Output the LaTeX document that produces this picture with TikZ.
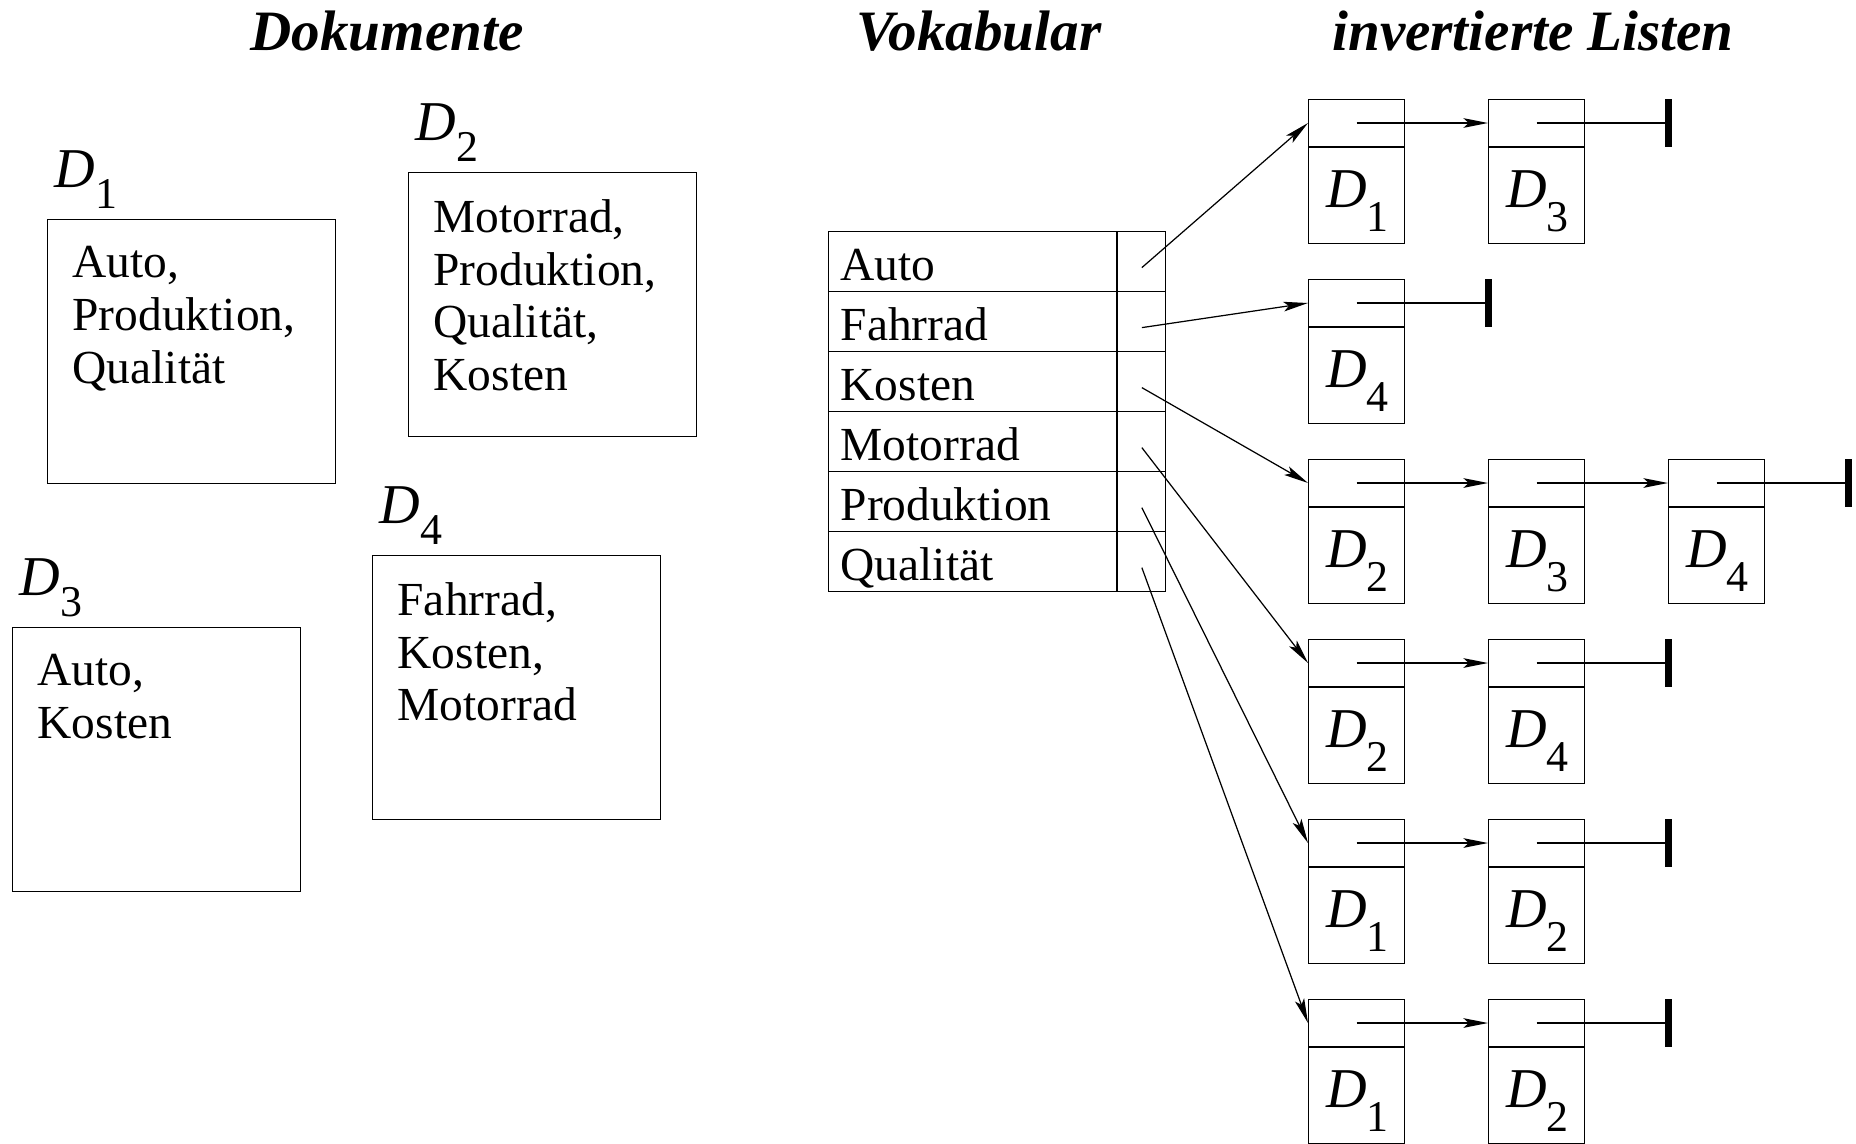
\documentclass[tikz,border=0pt]{standalone}
\usepackage{fontspec}
\setmainfont{Liberation Serif}
\usetikzlibrary{calc,arrows.meta}

\newcommand{\Dsub}[1]{\textit{D}\raisebox{-12pt}{\fontsize{25}{25}\selectfont #1}}
\newcommand{\Dcell}[1]{\textit{D}\raisebox{-14pt}{\fontsize{25}{25}\selectfont #1}}

\tikzset{
  every node/.style={inner sep=0pt},
  title/.style={font=\fontsize{32.5}{36}\selectfont\bfseries\itshape, anchor=base},
  docbox/.style={draw, minimum width=288*0.02cm, minimum height=264*0.02cm, anchor=north west},
  doctext/.style={font=\fontsize{27}{30}\selectfont, align=left, anchor=north west},
  dlabel/.style={font=\fontsize{32}{36}\selectfont, anchor=base west},
  wordcell/.style={draw, minimum width=288*0.02cm, minimum height=60*0.02cm, anchor=north west},
  ptrcell/.style={draw, minimum width=48*0.02cm, minimum height=60*0.02cm, anchor=north west},
  word/.style={font=\fontsize{27}{30}\selectfont, anchor=base west},
  listcell/.style={draw, minimum width=96*0.02cm, minimum height=144*0.02cm, anchor=north west},
  ptr/.style={-{Stealth[length=14pt, width=5.5pt, inset=3pt]}},
  endbar/.style={line width=4pt}
}

\begin{document}
\begin{tikzpicture}[x=0.02cm, y=-0.02cm, line width=0.7pt]
  \useasboundingbox (0,0) rectangle (1856,1143);

  % Ueberschriften
  \node[title] (tdok) at (387,50) {Dokumente};
  \node[title] (tvok) at (979,50) {Vokabular};
  \node[title] (tlis) at (1533,50) {invertierte Listen};

  % Dokumente
  \foreach \i/\x/\y/\txt in {1/47/219/{Auto,\\Produktion,\\Qualität},
                             2/408/172/{Motorrad,\\Produktion,\\Qualität,\\Kosten},
                             3/12/627/{Auto,\\Kosten},
                             4/372/555/{Fahrrad,\\Kosten,\\Motorrad}}{
    \node[docbox] (d\i) at (\x,\y) {};
    \node[doctext] (dt\i) at ($(d\i.north west)+(25,27)$) {\txt};
    \node[dlabel] (dl\i) at ($(d\i.north west)+(7,-32)$) {\Dsub{\i}};
  }

  % Vokabular
  \foreach \w [count=\r] in {Auto, Fahrrad, Kosten, Motorrad, Produktion, Qualität}{
    \node[wordcell] (w\r) at (828,{231+60*(\r-1)}) {};
    \node[ptrcell] (v\r) at (w\r.north east) {};
    \node[word] (t\r) at ($(w\r.north west)+(12,49)$) {\w};
  }

  % invertierte Listen
  \foreach \r/\n/\docs in {1/2/{1,3}, 2/1/{4}, 3/3/{2,3,4}, 4/2/{2,4}, 5/2/{1,2}, 6/2/{1,2}}{
    \foreach \d [count=\k] in \docs {
      \node[listcell] (c\r\k) at ({1308+180*(\k-1)},{99+180*(\r-1)}) {};
      \draw ($(c\r\k.north west)+(0,48)$) -- ($(c\r\k.north east)+(0,48)$);
      \node[font=\fontsize{32}{36}\selectfont, anchor=base] (n\r\k) at ($(c\r\k.north)+(1,108)$) {\Dcell{\d}};
      \coordinate (p\r\k) at ($(c\r\k.north)+(0,24)$);
      \ifnum\k>1
        \pgfmathtruncatemacro\j{\k-1}
        \draw[ptr] (p\r\j) -- (c\r\k.west |- p\r\j);
      \fi
    }
    \draw (p\r\n) -- ++(132,0) coordinate (e\r);
    \draw[endbar] ($(e\r)+(0,-24)$) -- ($(e\r)+(0,24)$);
    \draw[ptr] ($(v\r.center)+(0,6)$) -- (c\r1.west |- p\r1);
  }
\end{tikzpicture}
\end{document}
